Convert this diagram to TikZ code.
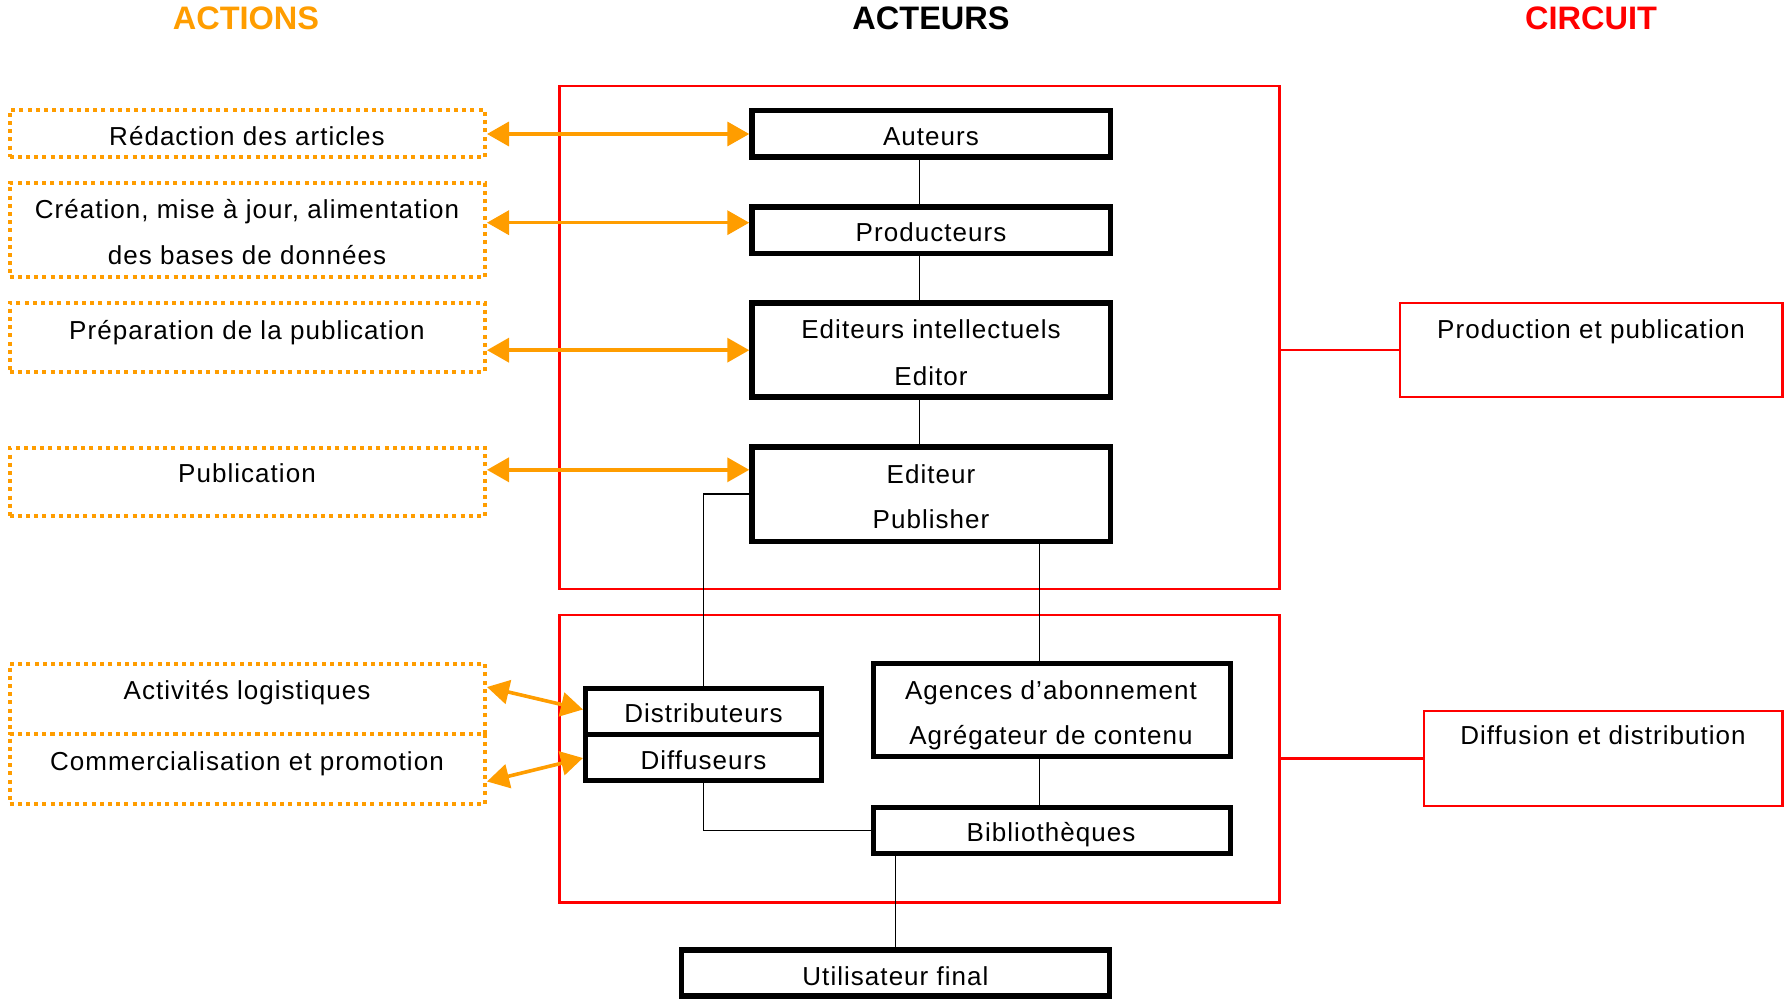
\documentclass[tikz,border=0pt]{standalone}
\usepackage{fontspec}
\setmainfont{Liberation Sans}
\usetikzlibrary{arrows.meta}
\definecolor{actorange}{RGB}{255,157,0}
\definecolor{circred}{RGB}{255,0,0}

\begin{document}
\begin{tikzpicture}[x=1pt,y=-1pt,
  txt/.style={anchor=base, inner sep=0pt, text=black,
    font=\fontsize{26}{30}\selectfont\addfontfeature{LetterSpace=4}},
  heading/.style={anchor=base, inner sep=0pt, font=\fontsize{32.5}{36}\selectfont\bfseries},
  actor/.style={draw=black, line width=5.5pt, inner sep=0pt, rectangle},
  zone/.style={draw=circred, line width=2.2pt, inner sep=0pt, rectangle},
  task/.style={draw=actorange, line width=4pt, dash pattern=on 4pt off 4.2pt,
    inner sep=0pt, rectangle, minimum width=475.4pt},
  link/.style={draw=black, line width=1.6pt},
  zonelink/.style={draw=circred, line width=2.2pt},
  oarrow/.style={draw=actorange, line width=3.6pt,
    {Triangle[length=22pt,width=24pt]}-{Triangle[length=22pt,width=24pt]}}
]
\useasboundingbox (0,0) rectangle (1784,1000);

% column headings
\node[heading, text=actorange] (hact) at (246,30) {ACTIONS};
\node[heading, text=black] (hacteurs) at (931,30) {ACTEURS};
\node[heading, text=circred] (hcirc) at (1591,30) {CIRCUIT};

% circuit zones
\node[zone, minimum width=720pt, minimum height=503pt] (red1) at (919.5,337.5) {};
\node[zone, minimum width=720pt, minimum height=287.5pt] (red2) at (919.5,758.75) {};
\node[zone, minimum width=382.5pt, minimum height=94pt] (cprod) at (1591.25,350) {};
\node[zone, minimum width=358.5pt, minimum height=95pt] (cdiff) at (1603.25,758.5) {};
\node[txt] (tcprod) at (1591,338.3) {Production et publication};
\node[txt] (tcdiff) at (1603,744) {Diffusion et distribution};

% actions (dotted boxes)
\node[task, minimum height=47pt] (d1) at (247.3,133.8) {};
\node[task, minimum height=94.3pt] (d2) at (247.3,230.15) {};
\node[task, minimum height=68.5pt] (d3) at (247.3,337.25) {};
\node[task, minimum height=67.7pt] (d4) at (247.3,481.85) {};
\node[task, minimum height=70.3pt] (d5) at (247.3,698.85) {};
\node[task, minimum height=69.7pt] (d6) at (247.3,768.85) {};
\node[txt] (td1) at (247,145.7) {Rédaction des articles};
\node[txt] (td2a) at (247,218.3) {Création, mise à jour, alimentation};
\node[txt] (td2b) at (247,264.3) {des bases de données};
\node[txt] (td3) at (247,339) {Préparation de la publication};
\node[txt] (td4) at (247,482.5) {Publication};
\node[txt] (td5) at (247,699) {Activités logistiques};
\node[txt] (td6) at (247,770) {Commercialisation et promotion};

% actors
\node[actor, minimum width=358.5pt, minimum height=46.5pt] (aut) at (931.25,133.8) {};
\node[actor, minimum width=358.5pt, minimum height=46.5pt] (prod) at (931.25,230.2) {};
\node[actor, minimum width=358.5pt, minimum height=94pt] (edint) at (931.25,349.9) {};
\node[actor, minimum width=358.5pt, minimum height=94.3pt] (pub) at (931.25,494.2) {};
\node[actor, minimum width=235.6pt, minimum height=46pt] (dist) at (703.5,711.5) {};
\node[actor, minimum width=235.6pt, minimum height=46pt] (diffu) at (703.5,757.5) {};
\node[actor, minimum width=356.6pt, minimum height=92.6pt] (agen) at (1052,710) {};
\node[actor, minimum width=356.6pt, minimum height=46pt] (bibl) at (1052,830.3) {};
\node[actor, minimum width=427.6pt, minimum height=46pt] (util) at (895.5,973) {};

\node[txt] (taut) at (931,145.7) {Auteurs};
\node[txt] (tprod) at (931,242) {Producteurs};
\node[txt] (tedinta) at (931,338.6) {Editeurs intellectuels};
\node[txt] (tedintb) at (931,385) {Editor};
\node[txt] (tpuba) at (931,483) {Editeur};
\node[txt] (tpubb) at (931,528.6) {Publisher};
\node[txt] (tdist) at (703.5,722) {Distributeurs};
\node[txt] (tdiffu) at (703.5,769.5) {Diffuseurs};
\node[txt] (tagena) at (1051,699) {Agences d’abonnement};
\node[txt] (tagenb) at (1051,744.5) {Agrégateur de contenu};
\node[txt] (tbibl) at (1051,841) {Bibliothèques};
\node[txt] (tutil) at (895.5,985) {Utilisateur final};

% vertical lines of the actor chain
\coordinate (cxA) at (919.5,0);
\coordinate (cxB) at (1039.3,0);
\coordinate (cxC) at (895.4,0);
\draw[link] (aut.south -| cxA) -- (prod.north -| cxA);
\draw[link] (prod.south -| cxA) -- (edint.north -| cxA);
\draw[link] (edint.south -| cxA) -- (pub.north -| cxA);
\draw[link] (pub.west) -| (dist.north);
\draw[link] (pub.south -| cxB) -- (agen.north -| cxB);
\draw[link] (agen.south -| cxB) -- (bibl.north -| cxB);
\draw[link] (diffu.south) |- (bibl.west);
\draw[link] (bibl.south -| cxC) -- (util.north -| cxC);

% zones to circuit labels
\draw[zonelink] (red1.east |- cprod.west) -- (cprod.west);
\draw[zonelink] (red2.east |- cdiff.west) -- (cdiff.west);

% actions to actors
\coordinate (yA) at (0,134);
\coordinate (yB) at (0,222.7);
\coordinate (yC) at (0,350.2);
\coordinate (yD) at (0,469.8);
\coordinate (yE) at (0,687);
\coordinate (yF) at (0,709.5);
\coordinate (yG) at (0,781.5);
\coordinate (yH) at (0,758);
\draw[oarrow] (d1.east |- yA) -- (aut.west |- yA);
\draw[oarrow] (d2.east |- yB) -- (prod.west |- yB);
\draw[oarrow] (d3.east |- yC) -- (edint.west |- yC);
\draw[oarrow] (d4.east |- yD) -- (pub.west |- yD);
\draw[oarrow] (d5.east |- yE) -- (dist.west |- yF);
\draw[oarrow] (d6.east |- yG) -- (diffu.west |- yH);
\end{tikzpicture}
\end{document}
